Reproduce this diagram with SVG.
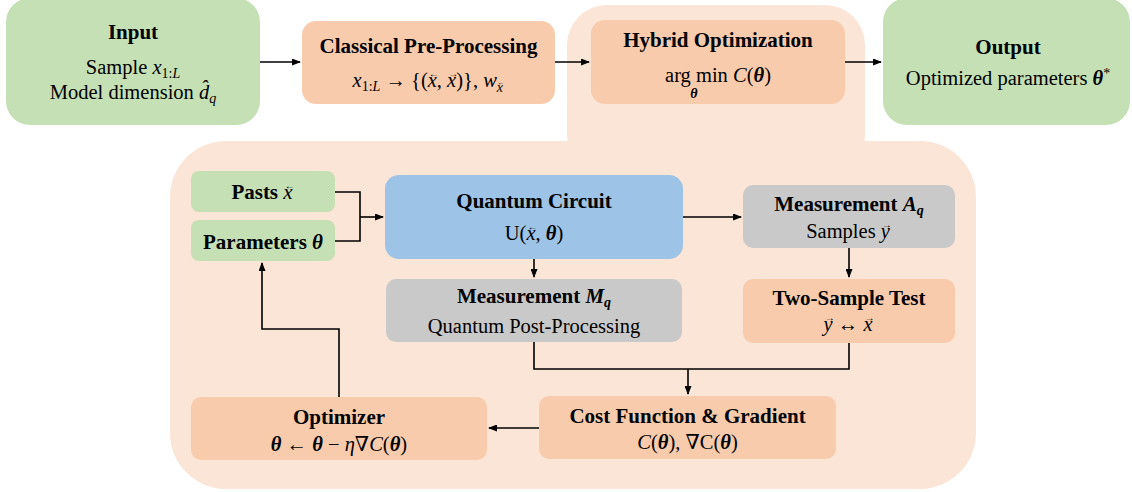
<svg xmlns="http://www.w3.org/2000/svg" width="1132" height="492" viewBox="0 0 1132 492">
<defs>
<marker id="ah" markerUnits="userSpaceOnUse" markerWidth="9" markerHeight="7" refX="8" refY="3.5" orient="auto">
<path d="M0,0 L9,3.5 L0,7 z" fill="#000"/>
</marker>
<style>
.t{font-family:"Liberation Serif","Times New Roman",serif;font-size:20.5px;fill:#000;text-anchor:middle}
.b{font-weight:bold;font-size:21px}
.m{font-family:"Liberation Serif","DejaVu Serif",serif;font-style:italic;font-weight:normal}
.mb{font-family:"Liberation Serif","DejaVu Serif",serif;font-style:italic;font-weight:bold}
.u{font-family:"Liberation Serif","DejaVu Serif",serif;font-style:normal;font-weight:normal}
.s{font-size:14px}
.ar{font-family:"Liberation Serif","DejaVu Serif",serif;font-style:normal;font-weight:normal;font-size:10px}
.ars{font-family:"Liberation Serif","DejaVu Serif",serif;font-style:normal;font-weight:normal;font-size:7px}
.green{fill:#c5e0b4}
.peach{fill:#f8cbad}
.blue{fill:#9dc3e6}
.gray{fill:#c9c9c9}
.bg{fill:#fbe5d6}
.c{fill:none;stroke:#000;stroke-width:1.6}
.a{fill:none;stroke:#000;stroke-width:1.6;marker-end:url(#ah)}
</style>
</defs>
<g id="background">
<rect class="bg" x="567" y="5" width="298" height="170" rx="40"/>
<rect class="bg" x="170" y="141" width="806" height="348" rx="56"/>
</g>
<g id="connectors">
<line class="a" x1="260" y1="62" x2="300" y2="62"/>
<line class="a" x1="555" y1="62" x2="589" y2="62"/>
<line class="a" x1="845" y1="62" x2="881" y2="62"/>
<polyline class="c" points="335,192 360,192 360,241 335,241"/>
<line class="a" x1="360" y1="217" x2="383" y2="217"/>
<line class="a" x1="683" y1="217" x2="741" y2="217"/>
<line class="a" x1="534" y1="259" x2="534" y2="277"/>
<line class="a" x1="849" y1="248" x2="849" y2="277"/>
<polyline class="c" points="534,342 534,369 849,369 849,343"/>
<line class="a" x1="688" y1="369" x2="688" y2="394"/>
<line class="a" x1="539" y1="428" x2="489" y2="428"/>
<polyline class="a" points="339,397 339,329 262,329 262,263"/>
</g>
<g id="input">
<rect class="green" x="6" y="-2" width="254" height="127" rx="24"/>
<text class="t b" x="133" y="39">Input</text>
<text class="t" x="133" y="74">Sample <tspan class="m">x</tspan><tspan class="u s" dy="4">1:</tspan><tspan class="m s">L</tspan></text>
<text class="t" x="133" y="99">Model dimension <tspan class="m">d̂</tspan><tspan class="m s" dy="4">q</tspan></text>
</g>
<g id="classical">
<rect class="peach" x="302" y="21" width="253" height="83" rx="14"/>
<text class="t b" x="428.5" y="53">Classical Pre-Processing</text>
<text class="t" x="428.5" y="87"><tspan class="m">x</tspan><tspan class="u s" dy="4">1:</tspan><tspan class="m s">L</tspan><tspan class="u" dy="-4"> → {(</tspan><tspan class="m">x</tspan><tspan class="ar" dx="-8" dy="-10">←</tspan><tspan class="u" dx="-2" dy="10">, </tspan><tspan class="m">x</tspan><tspan class="ar" dx="-8" dy="-10">→</tspan><tspan class="u" dx="-2" dy="10">)}, </tspan><tspan class="m">w</tspan><tspan class="m s" dy="5">x</tspan><tspan class="ars" dx="-5.6" dy="-7">←</tspan><tspan class="ars" dx="-1.4" dy="7"> </tspan></text>
</g>
<g id="hybrid">
<rect class="peach" x="591" y="20" width="254" height="84" rx="14"/>
<text class="t b" x="718" y="47">Hybrid Optimization</text>
<text class="t" x="718" y="82"><tspan class="u">arg min </tspan><tspan class="m">C</tspan><tspan class="u">(</tspan><tspan class="mb">θ</tspan><tspan class="u">)</tspan></text>
<text class="t mb s" x="694" y="98">θ</text>
</g>
<g id="output">
<rect class="green" x="883" y="-2" width="247" height="127" rx="24"/>
<text class="t b" x="1008" y="54">Output</text>
<text class="t" x="1008" y="85">Optimized parameters <tspan class="mb">θ</tspan><tspan class="u s" dy="-7">*</tspan></text>
</g>
<g id="pasts">
<rect class="green" x="191" y="171" width="144" height="41" rx="8"/>
<text class="t b" x="263" y="199">Pasts <tspan class="m">x</tspan><tspan class="ar" dx="-8" dy="-10">←</tspan><tspan class="ar" dx="-2" dy="10"> </tspan></text>
</g>
<g id="parameters">
<rect class="green" x="191" y="220" width="144" height="41" rx="8"/>
<text class="t b" x="263" y="249">Parameters <tspan class="mb">θ</tspan></text>
</g>
<g id="quantum-circuit">
<rect class="blue" x="385" y="175" width="298" height="84" rx="14"/>
<text class="t b" x="534" y="208">Quantum Circuit</text>
<text class="t" x="534" y="240"><tspan class="u">U(</tspan><tspan class="m">x</tspan><tspan class="ar" dx="-8" dy="-10">←</tspan><tspan class="u" dx="-2" dy="10">, </tspan><tspan class="mb">θ</tspan><tspan class="u">)</tspan></text>
</g>
<g id="measurement-a">
<rect class="gray" x="743" y="185" width="212" height="63" rx="10"/>
<text class="t b" x="849" y="211">Measurement <tspan class="mb">A</tspan><tspan class="mb s" dy="4">q</tspan></text>
<text class="t" x="849" y="238">Samples <tspan class="m">y</tspan><tspan class="ar" dx="-8" dy="-10">→</tspan><tspan class="ar" dx="-2" dy="10"> </tspan></text>
</g>
<g id="two-sample">
<rect class="peach" x="743" y="279" width="212" height="64" rx="10"/>
<text class="t b" x="849" y="305">Two-Sample Test</text>
<text class="t" x="849" y="331"><tspan class="m">y</tspan><tspan class="ar" dx="-8" dy="-10">→</tspan><tspan class="u" dx="-2" dy="10"> ↔ </tspan><tspan class="m">x</tspan><tspan class="ar" dx="-8" dy="-10">→</tspan><tspan class="ar" dx="-2" dy="10"> </tspan></text>
</g>
<g id="measurement-m">
<rect class="gray" x="386" y="279" width="296" height="63" rx="10"/>
<text class="t b" x="534" y="303">Measurement <tspan class="mb">M</tspan><tspan class="mb s" dy="4">q</tspan></text>
<text class="t" x="534" y="333">Quantum Post-Processing</text>
</g>
<g id="cost">
<rect class="peach" x="539" y="396" width="297" height="63" rx="10"/>
<text class="t b" x="687.5" y="423">Cost Function &amp; Gradient</text>
<text class="t" x="687.5" y="449"><tspan class="m">C</tspan><tspan class="u">(</tspan><tspan class="mb">θ</tspan><tspan class="u">), ∇C(</tspan><tspan class="mb">θ</tspan><tspan class="u">)</tspan></text>
</g>
<g id="optimizer">
<rect class="peach" x="191" y="397" width="296" height="63" rx="10"/>
<text class="t b" x="339" y="424">Optimizer</text>
<text class="t" x="339" y="451"><tspan class="mb">θ</tspan><tspan class="u"> ← </tspan><tspan class="mb">θ</tspan><tspan class="u"> − </tspan><tspan class="m">η</tspan><tspan class="u">∇</tspan><tspan class="m">C</tspan><tspan class="u">(</tspan><tspan class="mb">θ</tspan><tspan class="u">)</tspan></text>
</g>
</svg>
